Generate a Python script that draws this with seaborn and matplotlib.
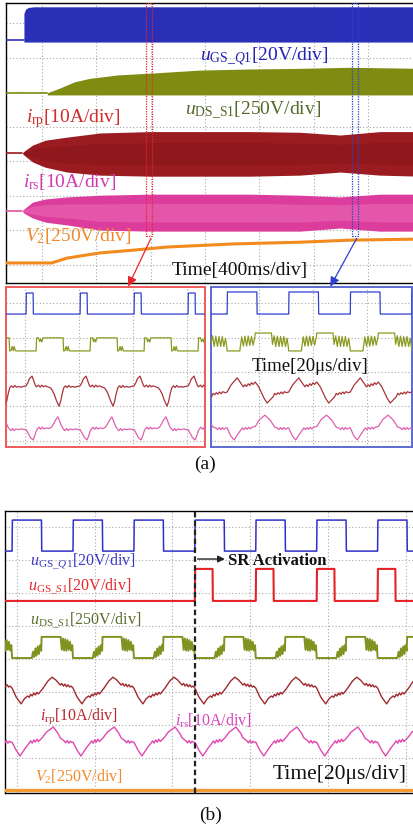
import numpy as np
import matplotlib
matplotlib.use('Agg')
import matplotlib.pyplot as plt
import seaborn as sns
from matplotlib.patches import Rectangle, FancyArrowPatch

# ======================= DATA (all in scope divisions) =======================
# ---- (a) overview, 400 ms/div : envelopes of the traces ----
A_Q1_PRE_T = [-0.70, -0.33]
A_Q1_PRE_V = [6.50, 6.50]
A_Q1_T = [-0.33, -0.30, -0.25, -0.15, 6.95]
A_Q1_TOP = [7.28, 7.40, 7.45, 7.47, 7.47]
A_Q1_BOT = [6.45, 6.45, 6.45, 6.45, 6.45]

A_DS_PRE_T = [-0.70, 0.10]
A_DS_PRE_V = [4.97, 4.97]
A_DS_T = [0.10, 0.33, 0.60, 0.88, 1.40, 1.99, 2.91, 3.80, 4.75, 5.67, 6.95]
A_DS_TOP = [4.98, 5.12, 5.30, 5.40, 5.50, 5.55, 5.64, 5.67, 5.69, 5.72, 5.69]
A_DS_BOT = [4.92, 4.92, 4.92, 4.92, 4.92, 4.92, 4.92, 4.92, 4.92, 4.92, 4.92]

A_RP_PRE_T = [-0.70, -0.36]
A_RP_PRE_V = [3.24, 3.24]
A_I_T = [-0.36, -0.33, -0.17, 0.06, 0.46, 1.07, 1.99, 3.83, 4.75, 5.49, 6.22, 6.95]
A_RP_TOP = [3.24, 3.29, 3.47, 3.61, 3.70, 3.82, 3.86, 3.86, 3.84, 3.76, 3.86, 3.86]
A_RP_BOT = [3.24, 3.18, 2.98, 2.83, 2.69, 2.60, 2.57, 2.57, 2.60, 2.69, 2.60, 2.57]

A_RS_PRE_T = [-0.70, -0.36]
A_RS_PRE_V = [1.56, 1.56]
A_RS_TOP = [1.56, 1.62, 1.82, 1.91, 1.97, 2.02, 2.05, 2.05, 2.02, 1.97, 2.05, 2.05]
A_RS_BOT = [1.56, 1.50, 1.36, 1.24, 1.16, 1.01, 0.98, 0.98, 0.98, 1.07, 0.98, 0.98]

A_V2_T = [-0.70, 0.18, 0.46, 1.07, 1.68, 2.30, 3.52, 4.75, 5.67, 6.95]
A_V2_V = [0.06, 0.06, 0.20, 0.35, 0.43, 0.52, 0.61, 0.66, 0.72, 0.75]

A_WIN1 = [1.92, 2.03]
A_WIN2 = [5.71, 5.82]
A_WIN_BOTTOM = 0.84

# ---- (a) zoom 1 (red box), 20 us/div : one switching period ----
Z1_PERIOD = 1.0
Z1_T0 = 0.02
Z1_Q1_T = [0.0, 0.005, 0.13, 0.135, 0.999]
Z1_Q1_V = [3.68, 4.29, 4.29, 3.68, 3.68]
Z1_DS_T = [0.0, 0.185, 0.195, 0.23, 0.25, 0.27, 0.29, 0.31, 0.685, 0.695, 0.72, 0.74, 0.76, 0.78, 0.80, 0.83, 0.999]
Z1_DS_V = [2.61, 2.61, 2.99, 2.99, 2.88, 2.95, 2.87, 2.99, 2.99, 2.61, 2.62, 2.74, 2.62, 2.74, 2.62, 2.61, 2.61]
Z1_RP_T = [0.0, 0.03, 0.06, 0.11, 0.14, 0.17, 0.19, 0.23, 0.26, 0.29, 0.32, 0.35, 0.40, 0.45, 0.48, 0.52, 0.56,
           0.61, 0.64, 0.67, 0.70, 0.73, 0.76, 0.79, 0.82, 0.86, 0.90, 0.95]
Z1_RP_V = [1.60, 1.68, 1.80, 1.88, 1.75, 1.62, 1.57, 1.62, 1.56, 1.62, 1.57, 1.60, 1.57, 1.54, 1.48, 1.36, 1.18,
           1.01, 1.15, 1.38, 1.55, 1.60, 1.55, 1.61, 1.56, 1.58, 1.56, 1.58]
Z1_RS_T = [0.0, 0.04, 0.08, 0.13, 0.16, 0.19, 0.21, 0.24, 0.27, 0.30, 0.33, 0.37, 0.42, 0.47, 0.51, 0.55, 0.59,
           0.62, 0.66, 0.69, 0.72, 0.75, 0.78, 0.81, 0.86, 0.92, 0.97]
Z1_RS_V = [0.33, 0.22, 0.10, 0.03, 0.15, 0.30, 0.35, 0.40, 0.34, 0.40, 0.35, 0.38, 0.36, 0.40, 0.50, 0.62, 0.70,
           0.58, 0.42, 0.35, 0.30, 0.36, 0.30, 0.35, 0.33, 0.35, 0.33]

# ---- (a) zoom 2 (blue box), 20 us/div ----
Z2_PERIOD = 1.14
Z2_T0 = -0.59
Z2_Q1_T = [0.0, 0.005, 0.55, 0.555, 1.135]
Z2_Q1_V = [3.68, 4.32, 4.32, 3.68, 3.68]
Z2_DS_T = [0.0, 0.235, 0.245, 0.27, 0.30, 0.33, 0.36, 0.39, 0.42, 0.45, 0.48, 0.51, 0.52, 0.82, 0.84, 0.87,
           0.90, 0.93, 0.96, 0.99, 1.02, 1.05, 1.08, 1.11, 1.135]
Z2_DS_V = [2.61, 2.61, 2.75, 3.02, 2.75, 3.04, 2.75, 3.04, 2.77, 3.03, 2.78, 3.00, 3.13, 3.13, 2.80, 3.05,
           2.74, 3.04, 2.74, 3.03, 2.74, 3.03, 2.74, 2.98, 2.70]
Z2_RP_T = [0.0, 0.07, 0.185, 0.25, 0.30, 0.33, 0.36, 0.39, 0.42, 0.45, 0.48, 0.52, 0.58, 0.63, 0.68, 0.74,
           0.80, 0.85, 0.88, 0.91, 0.94, 0.97, 1.00, 1.03, 1.06, 1.10]
Z2_RP_V = [1.42, 1.62, 1.83, 1.68, 1.57, 1.63, 1.58, 1.66, 1.61, 1.69, 1.64, 1.71, 1.58, 1.42, 1.25, 1.10,
           1.20, 1.28, 1.38, 1.34, 1.40, 1.36, 1.42, 1.37, 1.43, 1.40]
Z2_RS_T = [0.0, 0.065, 0.13, 0.20, 0.28, 0.31, 0.34, 0.37, 0.40, 0.43, 0.46, 0.52, 0.60, 0.70, 0.80, 0.88,
           0.93, 0.96, 0.99, 1.02, 1.05, 1.08, 1.12]
Z2_RS_V = [0.38, 0.15, 0.03, 0.20, 0.38, 0.33, 0.39, 0.34, 0.40, 0.35, 0.40, 0.42, 0.62, 0.75, 0.60, 0.40,
           0.38, 0.33, 0.39, 0.33, 0.39, 0.34, 0.38]

# ---- (b) 20 us/div, SR activation ----
B_PERIOD = 0.784
B_T0 = -0.064
B_SR_ON = 2.288
B_Q1_T = [0.0, 0.004, 0.378, 0.382, 0.78]
B_Q1_V = [7.27, 8.21, 8.21, 7.27, 7.27]
B_S1_LOW = 5.76
B_S1_T = [0.0, 0.004, 0.228, 0.232, 0.78]
B_S1_V = [5.76, 6.73, 6.73, 5.76, 5.76]
B_DS_T = [0.0, 0.255, 0.27, 0.285, 0.30, 0.315, 0.33, 0.345, 0.36, 0.375, 0.38, 0.625, 0.64, 0.655, 0.67,
          0.685, 0.70, 0.715, 0.73, 0.745, 0.76, 0.775]
B_DS_V = [4.03, 4.03, 4.22, 4.06, 4.32, 4.10, 4.38, 4.15, 4.42, 4.25, 4.67, 4.67, 4.28, 4.62, 4.26,
          4.60, 4.25, 4.57, 4.28, 4.52, 4.26, 4.42]
B_RP_T = [0.0, 0.052, 0.116, 0.16, 0.20, 0.22, 0.24, 0.26, 0.28, 0.30, 0.32, 0.34, 0.36, 0.40, 0.46, 0.515,
          0.565, 0.62, 0.64, 0.66, 0.68, 0.70, 0.72, 0.74, 0.76]
B_RP_V = [3.12, 2.85, 2.64, 2.80, 2.88, 2.84, 2.93, 2.88, 2.97, 2.91, 2.99, 2.94, 3.00, 3.12, 3.33, 3.45,
          3.36, 3.21, 3.26, 3.18, 3.24, 3.16, 3.22, 3.15, 3.18]
B_RS_T = [0.0, 0.052, 0.103, 0.17, 0.22, 0.24, 0.26, 0.28, 0.30, 0.32, 0.34, 0.39, 0.44, 0.53, 0.59, 0.62,
          0.67, 0.69, 0.71, 0.73, 0.75, 0.77]
B_RS_V = [1.48, 1.24, 1.06, 1.30, 1.45, 1.52, 1.45, 1.55, 1.48, 1.57, 1.50, 1.62, 1.78, 1.94, 1.75, 1.61,
          1.52, 1.46, 1.53, 1.45, 1.51, 1.47]
B_V2_LEVEL = 0.03

# ---- texts ----
LBL_A = [r'$u_{\mathrm{GS\_}Q\mathrm{1}}$[20V/div]', r'$u_{\mathrm{DS\_S1}}$[250V/div]',
         r'$i_{\mathrm{rp}}$[10A/div]', r'$i_{\mathrm{rs}}$[10A/div]', r'$V_{\mathrm{2}}$[250V/div]',
         'Time[400ms/div]', 'Time[20\u03bcs/div]', '(a)']
LBL_B = [r'$u_{\mathrm{GS\_}Q1}$[20V/div]', r'$u_{\mathrm{GS\_}S1}$[20V/div]', r'$u_{\mathrm{DS\_}S1}$[250V/div]',
         r'$i_{\mathrm{rp}}$[10A/div]', r'$i_{\mathrm{rs}}$[10A/div]', r'$V_{\mathrm{2}}$[250V/div]',
         'Time[20\u03bcs/div]', 'SR Activation', '(b)']

# ======================= STYLE / LAYOUT =======================
sns.set_theme(style='white')
plt.rcParams['font.family'] = ['Liberation Serif', 'DejaVu Serif']
plt.rcParams['mathtext.fontset'] = 'custom'
plt.rcParams['mathtext.rm'] = 'Liberation Serif'
plt.rcParams['mathtext.it'] = 'Liberation Serif:italic'
plt.rcParams['mathtext.bf'] = 'Liberation Serif:bold'

W, H = 413, 832
fig = plt.figure(figsize=(W / 100, H / 100), dpi=100)
fig.patch.set_facecolor('white')


def px_axes(l, t, r, b):
    return fig.add_axes([l / W, 1 - b / H, (r - l) / W, (b - t) / H])


def setup(ax, xlim, ylim, xt, yt, spine_color, spine_lw):
    ax.set_xlim(*xlim)
    ax.set_ylim(*ylim)
    ax.set_xticks(xt)
    ax.set_yticks(yt)
    ax.tick_params(length=0, labelbottom=False, labelleft=False)
    ax.grid(True, linestyle=(0, (1, 2)), color='#a8a8a8', linewidth=0.8)
    ax.set_axisbelow(True)
    ax.set_facecolor('white')
    for s in ax.spines.values():
        s.set_color(spine_color)
        s.set_linewidth(spine_lw)
        s.set_visible(True)
    ax.set_xlabel('')
    ax.set_ylabel('')


def tile(pt, pv, t0, period, lo, hi, kmin=None):
    pt = np.asarray(pt, float)
    pv = np.asarray(pv, float)
    if kmin is None:
        kmin = int(np.floor((lo - t0) / period)) - 1
    kmax = int(np.ceil((hi - t0) / period)) + 1
    t = np.concatenate([pt + t0 + k * period for k in range(kmin, kmax)])
    v = np.tile(pv, kmax - kmin)
    return t, v


def trace(ax, t, v, color, lw, z=3, ls='-'):
    sns.lineplot(x=np.asarray(t, float), y=np.asarray(v, float), ax=ax, color=color, linewidth=lw,
                 sort=False, estimator=None, legend=False, zorder=z, linestyle=ls)
    ax.set_xlabel('')
    ax.set_ylabel('')


def band(ax, t, bot, top, color, inner=None, frac=0.45):
    t = np.asarray(t, float)
    bot = np.asarray(bot, float)
    top = np.asarray(top, float)
    ax.fill_between(t, bot, top, color=color, lw=0, zorder=3)
    if inner is not None:
        mid = (bot + top) / 2
        half = (top - bot) / 2 * frac
        ax.fill_between(t, mid - half, mid + half, color=inner, lw=0, zorder=3.1)


C_BLUE = '#2a2fb8'
C_OLIVE = '#7f8c12'
C_DRED = '#9a1c20'
C_PINK = '#dc3d9c'
C_ORANGE = '#f28a1e'

# ---------------- (a) overview ----------------
axA = px_axes(6, 3, 418, 283)
setup(axA, (-0.66, 6.92), (-0.52, 7.58), range(0, 7), range(0, 8), 'black', 1.0)
trace(axA, A_Q1_PRE_T, A_Q1_PRE_V, C_BLUE, 1.2)
band(axA, A_Q1_T, A_Q1_BOT, A_Q1_TOP, C_BLUE)
trace(axA, A_DS_PRE_T, A_DS_PRE_V, C_OLIVE, 1.2)
band(axA, A_DS_T, A_DS_BOT, A_DS_TOP, C_OLIVE)
trace(axA, A_RP_PRE_T, A_RP_PRE_V, C_DRED, 1.2)
band(axA, A_I_T, A_RP_BOT, A_RP_TOP, C_DRED, inner='#8e181c', frac=0.5)
trace(axA, A_RS_PRE_T, A_RS_PRE_V, '#e0509f', 1.2)
band(axA, A_I_T, A_RS_BOT, A_RS_TOP, C_PINK, inner='#e456aa', frac=0.5)
trace(axA, A_V2_T, A_V2_V, C_ORANGE, 2.2)
for win, col in ((A_WIN1, '#e8262a'), (A_WIN2, '#2f3fd0')):
    axA.add_patch(Rectangle((win[0], A_WIN_BOTTOM), win[1] - win[0], 7.58 - A_WIN_BOTTOM, fill=False,
                            edgecolor=col, linestyle=(0, (1, 1)), linewidth=0.9, zorder=5))

# connecting arrows
for (x0, y0, x1, y1, col) in ((152, 236, 127, 289, '#e8262a'), (358, 236, 329, 289, '#2f3fd0')):
    fig.add_artist(FancyArrowPatch((x0 / W, 1 - y0 / H), (x1 / W, 1 - y1 / H), transform=fig.transFigure,
                                   arrowstyle='-|>', mutation_scale=14, color=col, linewidth=0.9, zorder=10))

# ---------------- (a) zoom boxes ----------------
axZ1 = px_axes(6, 287, 205, 447)
setup(axZ1, (-0.352, 3.333), (-0.174, 4.464), range(0, 4), range(0, 5), '#f05a5a', 1.4)
lo, hi = -0.4, 3.4
trace(axZ1, *tile(Z1_Q1_T, Z1_Q1_V, Z1_T0, Z1_PERIOD, lo, hi), '#3040d0', 0.9)
trace(axZ1, *tile(Z1_DS_T, Z1_DS_V, Z1_T0, Z1_PERIOD, lo, hi), '#8a9a20', 0.9)
trace(axZ1, *tile(Z1_RP_T, Z1_RP_V, Z1_T0, Z1_PERIOD, lo, hi), '#a8343a', 0.9)
trace(axZ1, *tile(Z1_RS_T, Z1_RS_V, Z1_T0, Z1_PERIOD, lo, hi), '#e060b0', 0.9)

axZ2 = px_axes(211, 287, 412, 447)
setup(axZ2, (-0.889, 2.833), (-0.174, 4.464), range(0, 3), range(0, 5), '#5a6ad0', 1.4)
lo, hi = -0.95, 2.9
trace(axZ2, *tile(Z2_Q1_T, Z2_Q1_V, Z2_T0, Z2_PERIOD, lo, hi), '#3040d0', 0.9)
trace(axZ2, *tile(Z2_DS_T, Z2_DS_V, Z2_T0, Z2_PERIOD, lo, hi), '#8a9a20', 0.9)
trace(axZ2, *tile(Z2_RP_T, Z2_RP_V, Z2_T0, Z2_PERIOD, lo, hi), '#a8343a', 0.9)
trace(axZ2, *tile(Z2_RS_T, Z2_RS_V, Z2_T0, Z2_PERIOD, lo, hi), '#e060b0', 0.9)

# ---------------- (b) ----------------
axB = px_axes(5, 511, 418, 793)
setup(axB, (-0.155, 5.16), (-0.06, 8.485), range(0, 6), range(0, 9), 'black', 1.0)
lo, hi = -0.2, 5.2
trace(axB, *tile(B_Q1_T, B_Q1_V, B_T0, B_PERIOD, lo, hi), '#3030c8', 1.1)
ts, vs = tile(B_S1_T, B_S1_V, B_SR_ON, B_PERIOD, lo, hi, kmin=0)
trace(axB, np.concatenate([[lo, B_SR_ON], ts]), np.concatenate([[B_S1_LOW, B_S1_LOW], vs]), '#e52228', 1.5)
trace(axB, *tile(B_DS_T, B_DS_V, B_T0, B_PERIOD, lo, hi), '#7f9420', 1.4)
trace(axB, *tile(B_RP_T, B_RP_V, B_T0, B_PERIOD, lo, hi), '#a02a2e', 1.0)
trace(axB, *tile(B_RS_T, B_RS_V, B_T0, B_PERIOD, lo, hi), '#e048b0', 1.0)
trace(axB, [lo, hi], [B_V2_LEVEL, B_V2_LEVEL], '#f39a30', 2.4)
axB.axvline(B_SR_ON, color='#222222', linestyle=(0, (2.5, 1.5)), linewidth=1.6, zorder=6)
axB.annotate('', xy=(2.71, 7.03), xytext=(B_SR_ON, 7.03),
             arrowprops=dict(arrowstyle='-|>', color='#222222', lw=1.0, mutation_scale=10), zorder=7)

# ---------------- texts ----------------
def ftxt(x, y, s, size, color, ha='left', weight='normal'):
    fig.text(x / W, 1 - y / H, s, ha=ha, va='center', fontsize=size, color=color, fontweight=weight)

ftxt(200, 57, LBL_A[0], 14, '#2323b5')
ftxt(185, 111, LBL_A[1], 14, '#55692a')
ftxt(26, 119, LBL_A[2], 14, '#d42a2a')
ftxt(23, 182, LBL_A[3], 14, '#d03ab0')
ftxt(25, 236, LBL_A[4], 14, '#f0892a')
ftxt(172, 270, LBL_A[5], 14, '#111111')
ftxt(252, 367, LBL_A[6], 13.5, '#111111')
ftxt(205, 464, LBL_A[7], 14, '#111111', ha='center')

ftxt(30, 561, LBL_B[0], 11.5, '#3a3ac8')
ftxt(28, 587, LBL_B[1], 11.5, '#e8262a')
ftxt(30, 621, LBL_B[2], 11.5, '#5c6e2e')
ftxt(40, 716, LBL_B[3], 11.5, '#b8282d')
ftxt(175, 721, LBL_B[4], 11.5, '#d844c0')
ftxt(35, 777, LBL_B[5], 11.5, '#f08a2a')
ftxt(273, 775, LBL_B[6], 15.5, '#111111')
ftxt(228, 561, LBL_B[7], 12, '#111111', weight='bold')
ftxt(211, 815, LBL_B[8], 14, '#111111', ha='center')

fig.savefig('out.png', dpi=100, facecolor='white')
